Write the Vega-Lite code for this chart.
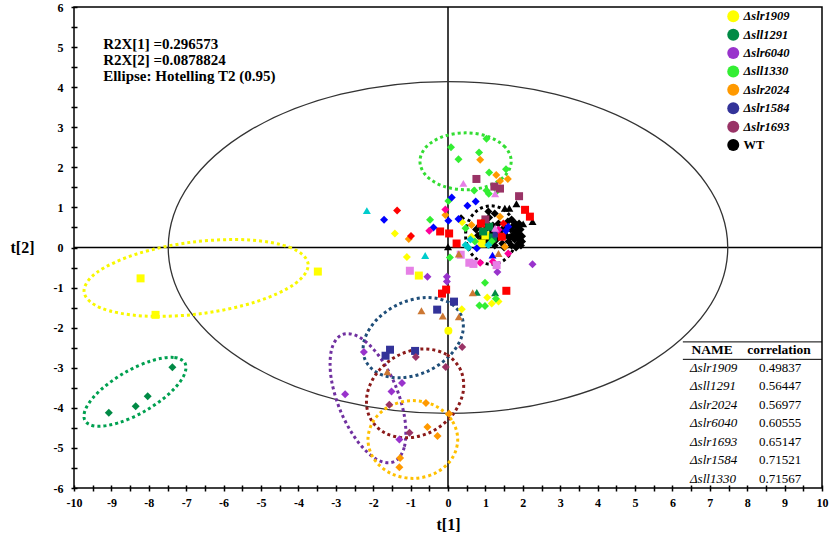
{
  "$schema": "https://vega.github.io/schema/vega-lite/v6.json",
  "width": 748,
  "height": 481,
  "autosize": {"type": "none"},
  "padding": {"left": 74, "top": 7, "right": 7, "bottom": 60},
  "background": "#ffffff",
  "config": {
    "view": {"stroke": "#000000", "strokeWidth": 1.5},
    "axis": {
      "grid": false, "domain": false,
      "labelFont": "Liberation Serif", "labelFontWeight": "bold", "labelFontSize": 12, "labelColor": "#000000",
      "tickColor": "#000000", "tickWidth": 1.5, "tickSize": 6, "offset": -3,
      "titleFont": "Liberation Serif", "titleFontSize": 16, "titleFontWeight": "bold", "titleColor": "#000000",
      "labelOverlap": false, "labelFlush": false, "labelSeparation": 0, "labelBound": false
    }
  },
  "datasets": {
    "t2": [
      {"i":0,"x":7.48,"y":0},{"i":1,"x":6.911,"y":1.584},{"i":2,"x":5.289,"y":2.927},{"i":3,"x":2.863,"y":3.825},
      {"i":4,"x":0,"y":4.14},{"i":5,"x":-2.863,"y":3.825},{"i":6,"x":-5.289,"y":2.927},{"i":7,"x":-6.911,"y":1.584},
      {"i":8,"x":-7.48,"y":0},{"i":9,"x":-6.911,"y":-1.584},{"i":10,"x":-5.289,"y":-2.927},{"i":11,"x":-2.863,"y":-3.825},
      {"i":12,"x":0,"y":-4.14},{"i":13,"x":2.863,"y":-3.825},{"i":14,"x":5.289,"y":-2.927},{"i":15,"x":6.911,"y":-1.584}
    ],
    "ellipses": [
      {"e":"Δsll1330","i":0,"x":1.69,"y":2.15},{"e":"Δsll1330","i":1,"x":1.527,"y":2.505},{"e":"Δsll1330","i":2,"x":1.08,"y":2.765},{"e":"Δsll1330","i":3,"x":0.47,"y":2.86},{"e":"Δsll1330","i":4,"x":-0.14,"y":2.765},{"e":"Δsll1330","i":5,"x":-0.587,"y":2.505},{"e":"Δsll1330","i":6,"x":-0.75,"y":2.15},{"e":"Δsll1330","i":7,"x":-0.587,"y":1.795},{"e":"Δsll1330","i":8,"x":-0.14,"y":1.535},{"e":"Δsll1330","i":9,"x":0.47,"y":1.44},{"e":"Δsll1330","i":10,"x":1.08,"y":1.535},{"e":"Δsll1330","i":11,"x":1.527,"y":1.795},
      {"e":"WT","i":0,"x":1.83,"y":0.31},{"e":"WT","i":1,"x":1.739,"y":0.675},{"e":"WT","i":2,"x":1.49,"y":0.942},{"e":"WT","i":3,"x":1.15,"y":1.04},{"e":"WT","i":4,"x":0.81,"y":0.942},{"e":"WT","i":5,"x":0.561,"y":0.675},{"e":"WT","i":6,"x":0.47,"y":0.31},{"e":"WT","i":7,"x":0.561,"y":-0.055},{"e":"WT","i":8,"x":0.81,"y":-0.322},{"e":"WT","i":9,"x":1.15,"y":-0.42},{"e":"WT","i":10,"x":1.49,"y":-0.322},{"e":"WT","i":11,"x":1.739,"y":-0.055},
      {"e":"Δslr1909","i":0,"x":-3.74,"y":-0.41},{"e":"Δslr1909","i":1,"x":-4.194,"y":-0.01},{"e":"Δslr1909","i":2,"x":-5.328,"y":0.189},{"e":"Δslr1909","i":3,"x":-6.84,"y":0.134},{"e":"Δslr1909","i":4,"x":-8.323,"y":-0.161},{"e":"Δslr1909","i":5,"x":-9.38,"y":-0.616},{"e":"Δslr1909","i":6,"x":-9.73,"y":-1.11},{"e":"Δslr1909","i":7,"x":-9.276,"y":-1.51},{"e":"Δslr1909","i":8,"x":-8.142,"y":-1.709},{"e":"Δslr1909","i":9,"x":-6.63,"y":-1.654},{"e":"Δslr1909","i":10,"x":-5.148,"y":-1.359},{"e":"Δslr1909","i":11,"x":-4.09,"y":-0.904},
      {"e":"Δsll1291","i":0,"x":-7.029,"y":-2.89},{"e":"Δsll1291","i":1,"x":-7.338,"y":-2.742},{"e":"Δsll1291","i":2,"x":-7.922,"y":-2.824},{"e":"Δsll1291","i":3,"x":-8.627,"y":-3.114},{"e":"Δsll1291","i":4,"x":-9.263,"y":-3.534},{"e":"Δsll1291","i":5,"x":-9.66,"y":-3.972},{"e":"Δsll1291","i":6,"x":-9.711,"y":-4.31},{"e":"Δsll1291","i":7,"x":-9.402,"y":-4.458},{"e":"Δsll1291","i":8,"x":-8.818,"y":-4.376},{"e":"Δsll1291","i":9,"x":-8.113,"y":-4.086},{"e":"Δsll1291","i":10,"x":-7.477,"y":-3.666},{"e":"Δsll1291","i":11,"x":-7.08,"y":-3.228},
      {"e":"Δslr1584","i":0,"x":0.368,"y":-1.726},{"e":"Δslr1584","i":1,"x":0.022,"y":-1.37},{"e":"Δslr1584","i":2,"x":-0.579,"y":-1.249},{"e":"Δslr1584","i":3,"x":-1.275,"y":-1.397},{"e":"Δslr1584","i":4,"x":-1.877,"y":-1.774},{"e":"Δslr1584","i":5,"x":-2.226,"y":-2.278},{"e":"Δslr1584","i":6,"x":-2.228,"y":-2.774},{"e":"Δslr1584","i":7,"x":-1.882,"y":-3.13},{"e":"Δslr1584","i":8,"x":-1.281,"y":-3.251},{"e":"Δslr1584","i":9,"x":-0.585,"y":-3.103},{"e":"Δslr1584","i":10,"x":0.017,"y":-2.726},{"e":"Δslr1584","i":11,"x":0.366,"y":-2.222},
      {"e":"Δslr6040","i":0,"x":-1.436,"y":-5.34},{"e":"Δslr6040","i":1,"x":-1.165,"y":-4.966},{"e":"Δslr6040","i":2,"x":-1.155,"y":-4.268},{"e":"Δslr6040","i":3,"x":-1.409,"y":-3.435},{"e":"Δslr6040","i":4,"x":-1.859,"y":-2.688},{"e":"Δslr6040","i":5,"x":-2.384,"y":-2.229},{"e":"Δslr6040","i":6,"x":-2.844,"y":-2.18},{"e":"Δslr6040","i":7,"x":-3.115,"y":-2.554},{"e":"Δslr6040","i":8,"x":-3.125,"y":-3.252},{"e":"Δslr6040","i":9,"x":-2.871,"y":-4.085},{"e":"Δslr6040","i":10,"x":-2.421,"y":-4.832},{"e":"Δslr6040","i":11,"x":-1.896,"y":-5.291},
      {"e":"Δslr1693","i":0,"x":0.344,"y":-3.07},{"e":"Δslr1693","i":1,"x":-0.042,"y":-2.67},{"e":"Δslr1693","i":2,"x":-0.652,"y":-2.531},{"e":"Δslr1693","i":3,"x":-1.324,"y":-2.688},{"e":"Δslr1693","i":4,"x":-1.876,"y":-3.101},{"e":"Δslr1693","i":5,"x":-2.162,"y":-3.658},{"e":"Δslr1693","i":6,"x":-2.104,"y":-4.211},{"e":"Δslr1693","i":7,"x":-1.718,"y":-4.61},{"e":"Δslr1693","i":8,"x":-1.108,"y":-4.749},{"e":"Δslr1693","i":9,"x":-0.436,"y":-4.592},{"e":"Δslr1693","i":10,"x":0.116,"y":-4.179},{"e":"Δslr1693","i":11,"x":0.402,"y":-3.622},
      {"e":"Δslr2024","i":0,"x":0.26,"y":-4.79},{"e":"Δslr2024","i":1,"x":0.099,"y":-4.305},{"e":"Δslr2024","i":2,"x":-0.34,"y":-3.95},{"e":"Δslr2024","i":3,"x":-0.94,"y":-3.82},{"e":"Δslr2024","i":4,"x":-1.54,"y":-3.95},{"e":"Δslr2024","i":5,"x":-1.979,"y":-4.305},{"e":"Δslr2024","i":6,"x":-2.14,"y":-4.79},{"e":"Δslr2024","i":7,"x":-1.979,"y":-5.275},{"e":"Δslr2024","i":8,"x":-1.54,"y":-5.63},{"e":"Δslr2024","i":9,"x":-0.94,"y":-5.76},{"e":"Δslr2024","i":10,"x":-0.34,"y":-5.63},{"e":"Δslr2024","i":11,"x":0.099,"y":-5.275}
    ],
    "points": [
      {"g":"WT","m":"D","x":0.75,"y":0.45},{"g":"WT","m":"D","x":0.8,"y":0.3},{"g":"WT","m":"D","x":0.85,"y":0.55},{"g":"WT","m":"D","x":0.9,"y":0.2},{"g":"WT","m":"D","x":0.95,"y":0.65},{"g":"WT","m":"D","x":1.0,"y":0.45},{"g":"WT","m":"D","x":1.05,"y":0.15},{"g":"WT","m":"D","x":1.1,"y":0.75},{"g":"WT","m":"D","x":1.15,"y":0.35},{"g":"WT","m":"D","x":1.2,"y":0.55},{"g":"WT","m":"D","x":1.25,"y":0.85},{"g":"WT","m":"D","x":1.3,"y":0.2},{"g":"WT","m":"D","x":1.35,"y":0.6},{"g":"WT","m":"D","x":1.4,"y":0.4},{"g":"WT","m":"D","x":1.45,"y":0.1},{"g":"WT","m":"D","x":1.5,"y":0.5},{"g":"WT","m":"D","x":1.55,"y":0.3},{"g":"WT","m":"D","x":1.6,"y":0.65},{"g":"WT","m":"D","x":1.62,"y":0.15},{"g":"WT","m":"D","x":1.68,"y":0.45},{"g":"WT","m":"D","x":1.7,"y":0.05},{"g":"WT","m":"D","x":1.72,"y":0.3},{"g":"WT","m":"D","x":1.75,"y":0.55},{"g":"WT","m":"D","x":1.78,"y":0.2},{"g":"WT","m":"D","x":1.8,"y":0.4},{"g":"WT","m":"D","x":1.82,"y":0.0},{"g":"WT","m":"D","x":1.85,"y":0.25},{"g":"WT","m":"D","x":1.86,"y":0.5},{"g":"WT","m":"D","x":1.88,"y":0.1},{"g":"WT","m":"D","x":1.9,"y":0.35},{"g":"WT","m":"D","x":1.92,"y":0.2},{"g":"WT","m":"D","x":1.94,"y":0.45},{"g":"WT","m":"D","x":1.95,"y":0.05},{"g":"WT","m":"D","x":1.8,"y":0.6},{"g":"WT","m":"D","x":1.7,"y":0.7},{"g":"WT","m":"D","x":1.08,"y":0.9},{"g":"WT","m":"D","x":0.35,"y":0.73},{"g":"WT","m":"D","x":1.5,"y":0.0},{"g":"WT","m":"D","x":1.25,"y":0.05},{"g":"WT","m":"D","x":1.9,"y":0.6},{"g":"WT","m":"D","x":1.02,"y":0.62},{"g":"WT","m":"D","x":0.92,"y":0.38},{"g":"WT","m":"D","x":1.12,"y":0.5},{"g":"WT","m":"D","x":1.65,"y":0.25},{"g":"WT","m":"D","x":1.98,"y":0.28},{"g":"WT","m":"D","x":1.98,"y":0.15},
      {"g":"WT","m":"T","x":1.83,"y":1.09},{"g":"WT","m":"T","x":1.64,"y":0.98},{"g":"WT","m":"T","x":2.26,"y":0.65},{"g":"WT","m":"T","x":2.01,"y":0.59},{"g":"WT","m":"T","x":1.52,"y":0.98},{"g":"WT","m":"T","x":0.0,"y":0.02},
      {"g":"Δslr1909","m":"S","x":-8.22,"y":-0.77},{"g":"Δslr1909","m":"S","x":-7.82,"y":-1.68},{"g":"Δslr1909","m":"S","x":-3.48,"y":-0.6},{"g":"Δslr1909","m":"D","x":-1.42,"y":0.35},{"g":"Δslr1909","m":"D","x":-1.1,"y":-0.24},{"g":"Δslr1909","m":"C","x":0.01,"y":-2.08},{"g":"Δslr1909","m":"D","x":0.37,"y":-1.54},{"g":"Δslr1909","m":"D","x":1.05,"y":-1.25},{"g":"Δslr1909","m":"D","x":1.17,"y":-1.4},{"g":"Δslr1909","m":"D","x":1.35,"y":-1.35},{"g":"Δslr1909","m":"D","x":0.38,"y":0.63},{"g":"Δslr1909","m":"D","x":0.63,"y":0.27},{"g":"Δslr1909","m":"S","x":0.9,"y":0.1},{"g":"Δslr1909","m":"S","x":1.0,"y":0.3},{"g":"Δslr1909","m":"S","x":-0.78,"y":-0.7},
      {"g":"Δsll1291","m":"D","x":-7.37,"y":-2.99},{"g":"Δsll1291","m":"D","x":-8.03,"y":-3.71},{"g":"Δsll1291","m":"D","x":-8.35,"y":-3.96},{"g":"Δsll1291","m":"D","x":-9.07,"y":-4.12},{"g":"Δsll1291","m":"S","x":0.94,"y":0.4},{"g":"Δsll1291","m":"S","x":1.1,"y":0.52},{"g":"Δsll1291","m":"S","x":1.2,"y":0.25},{"g":"Δsll1291","m":"T","x":0.77,"y":-1.12},{"g":"Δsll1291","m":"T","x":1.26,"y":-1.13},
      {"g":"Δslr6040","m":"D","x":-2.25,"y":-2.61},{"g":"Δslr6040","m":"D","x":-1.23,"y":-3.38},{"g":"Δslr6040","m":"D","x":-1.51,"y":-3.59},{"g":"Δslr6040","m":"D","x":-2.75,"y":-3.66},{"g":"Δslr6040","m":"D","x":-1.3,"y":-4.79},{"g":"Δslr6040","m":"D","x":2.26,"y":-0.42},{"g":"Δslr6040","m":"D","x":1.32,"y":-0.61},{"g":"Δslr6040","m":"D","x":-0.55,"y":-0.73},{"g":"Δslr6040","m":"D","x":-0.03,"y":-0.73},{"g":"Δslr6040","m":"D","x":-0.03,"y":-0.85},
      {"g":"Δsll1330","m":"D","x":0.08,"y":2.5},{"g":"Δsll1330","m":"D","x":0.28,"y":2.2},{"g":"Δsll1330","m":"D","x":1.03,"y":2.71},{"g":"Δsll1330","m":"D","x":0.83,"y":2.37},{"g":"Δsll1330","m":"D","x":1.1,"y":1.87},{"g":"Δsll1330","m":"D","x":1.55,"y":1.95},{"g":"Δsll1330","m":"D","x":0.7,"y":1.42},{"g":"Δsll1330","m":"D","x":1.03,"y":1.42},{"g":"Δsll1330","m":"D","x":1.09,"y":1.34},{"g":"Δsll1330","m":"D","x":1.32,"y":1.42},{"g":"Δsll1330","m":"D","x":0.01,"y":1.16},{"g":"Δsll1330","m":"D","x":-0.48,"y":0.69},{"g":"Δsll1330","m":"D","x":0.05,"y":-0.25},{"g":"Δsll1330","m":"D","x":0.99,"y":-0.88},{"g":"Δsll1330","m":"D","x":1.28,"y":-1.28},{"g":"Δsll1330","m":"D","x":0.84,"y":-1.45},{"g":"Δsll1330","m":"D","x":0.99,"y":-1.46},{"g":"Δsll1330","m":"D","x":0.47,"y":0.48},{"g":"Δsll1330","m":"D","x":0.72,"y":0.15},{"g":"Δsll1330","m":"D","x":1.17,"y":0.15},
      {"g":"Δslr2024","m":"D","x":0.86,"y":2.19},{"g":"Δslr2024","m":"D","x":1.29,"y":1.81},{"g":"Δslr2024","m":"D","x":1.39,"y":1.66},{"g":"Δslr2024","m":"D","x":1.6,"y":1.71},{"g":"Δslr2024","m":"D","x":-1.05,"y":0.21},{"g":"Δslr2024","m":"D","x":-0.59,"y":-3.88},{"g":"Δslr2024","m":"D","x":0.03,"y":-4.15},{"g":"Δslr2024","m":"D","x":-0.55,"y":-4.48},{"g":"Δslr2024","m":"D","x":-0.28,"y":-4.7},{"g":"Δslr2024","m":"D","x":-1.28,"y":-5.25},{"g":"Δslr2024","m":"D","x":-1.3,"y":-5.48},{"g":"Δslr2024","m":"D","x":0.63,"y":0.56},{"g":"Δslr2024","m":"D","x":1.39,"y":0.77},{"g":"Δslr2024","m":"D","x":1.52,"y":0.02},{"g":"Δslr2024","m":"D","x":-0.07,"y":0.81},
      {"g":"Δslr1584","m":"S","x":0.16,"y":-1.35},{"g":"Δslr1584","m":"S","x":-0.29,"y":-1.55},{"g":"Δslr1584","m":"S","x":-1.55,"y":-2.55},{"g":"Δslr1584","m":"S","x":-1.67,"y":-2.7},{"g":"Δslr1584","m":"S","x":-0.88,"y":-2.58},{"g":"Δslr1584","m":"S","x":1.3,"y":0.35},
      {"g":"Δslr1693","m":"D","x":0.38,"y":-2.48},{"g":"Δslr1693","m":"D","x":-0.86,"y":-2.73},{"g":"Δslr1693","m":"D","x":-0.06,"y":-2.98},{"g":"Δslr1693","m":"D","x":-1.57,"y":-3.92},{"g":"Δslr1693","m":"D","x":-1.03,"y":-4.62},{"g":"Δslr1693","m":"S","x":0.76,"y":1.71},{"g":"Δslr1693","m":"S","x":1.24,"y":1.52},{"g":"Δslr1693","m":"S","x":1.39,"y":1.47},{"g":"Δslr1693","m":"S","x":1.9,"y":1.28},{"g":"Δslr1693","m":"S","x":1.0,"y":0.7},
      {"g":"M1","m":"S","x":2.06,"y":0.94},{"g":"M1","m":"S","x":2.19,"y":0.77},{"g":"M1","m":"S","x":-0.21,"y":0.4},{"g":"M1","m":"S","x":0.03,"y":0.35},{"g":"M1","m":"S","x":0.23,"y":0.1},{"g":"M1","m":"S","x":1.44,"y":0.27},{"g":"M1","m":"S","x":-0.16,"y":-1.15},{"g":"M1","m":"S","x":-0.05,"y":-1.05},{"g":"M1","m":"S","x":1.56,"y":-1.08},{"g":"M1","m":"S","x":0.88,"y":0.6},{"g":"M1","m":"D","x":-1.36,"y":0.92},{"g":"M1","m":"D","x":-0.99,"y":0.29},{"g":"M1","m":"D","x":1.48,"y":0.6},
      {"g":"M2","m":"D","x":-1.71,"y":0.69},{"g":"M2","m":"D","x":-0.39,"y":0.5},{"g":"M2","m":"D","x":0.01,"y":0.67},{"g":"M2","m":"D","x":0.1,"y":1.25},{"g":"M2","m":"D","x":0.74,"y":1.15},{"g":"M2","m":"D","x":0.52,"y":1.04},{"g":"M2","m":"D","x":0.28,"y":0.71},{"g":"M2","m":"D","x":0.77,"y":-0.02},{"g":"M2","m":"D","x":1.61,"y":0.52},{"g":"M2","m":"D","x":1.55,"y":0.42},{"g":"M2","m":"T","x":1.19,"y":-0.19},
      {"g":"M3","m":"D","x":-0.5,"y":0.42},{"g":"M3","m":"D","x":-0.07,"y":0.95},{"g":"M3","m":"D","x":0.86,"y":-0.38},{"g":"M3","m":"D","x":1.35,"y":0.44},{"g":"M3","m":"D","x":1.61,"y":-0.15},{"g":"M3","m":"D","x":1.2,"y":-0.35},
      {"g":"M4","m":"T","x":-2.17,"y":0.92},{"g":"M4","m":"T","x":-0.61,"y":-0.2},{"g":"M4","m":"D","x":0.47,"y":0.06},{"g":"M4","m":"D","x":0.54,"y":0.0},{"g":"M4","m":"D","x":1.08,"y":0.06},{"g":"M4","m":"D","x":0.6,"y":0.2},
      {"g":"M5","m":"T","x":0.41,"y":1.6},{"g":"M5","m":"T","x":1.26,"y":1.34},{"g":"M5","m":"T","x":1.26,"y":0.48},{"g":"M5","m":"S","x":0.34,"y":-0.18},{"g":"M5","m":"S","x":0.57,"y":-0.38},{"g":"M5","m":"S","x":0.68,"y":-0.41},{"g":"M5","m":"S","x":-1.02,"y":-0.58},{"g":"M5","m":"S","x":1.3,"y":-0.44},
      {"g":"M6","m":"T","x":0.29,"y":-0.16},{"g":"M6","m":"T","x":0.66,"y":-1.13},{"g":"M6","m":"T","x":-0.71,"y":-1.58},{"g":"M6","m":"T","x":-0.14,"y":-1.71},{"g":"M6","m":"T","x":0.29,"y":-1.73},{"g":"M6","m":"T","x":-1.62,"y":-3.1},{"g":"M6","m":"T","x":1.35,"y":-0.15}
    ],
    "table": [
      {"name":"Δslr1909","correlation":0.49837},{"name":"Δsll1291","correlation":0.56447},{"name":"Δslr2024","correlation":0.56977},{"name":"Δslr6040","correlation":0.60555},{"name":"Δslr1693","correlation":0.65147},{"name":"Δslr1584","correlation":0.71521},{"name":"Δsll1330","correlation":0.71567}
    ]
  },
  "layer": [
    {
      "layer": [
        {
          "data": {"values": [{}]},
          "mark": {"type": "rule", "color": "#000000", "strokeWidth": 1.5},
          "encoding": {"x": {"datum": 0}}
        },
        {
          "data": {"values": [{}]},
          "mark": {"type": "rule", "color": "#000000", "strokeWidth": 1.5},
          "encoding": {"y": {"datum": 0}}
        },
        {
          "data": {"name": "t2"},
          "mark": {"type": "line", "interpolate": "cardinal-closed", "color": "#333333", "strokeWidth": 1.3},
          "encoding": {
            "x": {"field": "x", "type": "quantitative", "scale": {"domain": [-10, 10], "nice": false, "zero": false}},
            "y": {"field": "y", "type": "quantitative", "scale": {"domain": [-6, 6], "nice": false, "zero": false}},
            "order": {"field": "i"}
          }
        },
        {
          "data": {"name": "ellipses"},
          "mark": {"type": "line", "interpolate": "cardinal-closed", "strokeDash": [3, 3], "strokeWidth": 3},
          "encoding": {
            "x": {"field": "x", "type": "quantitative", "scale": {"domain": [-10, 10], "nice": false, "zero": false}},
            "y": {"field": "y", "type": "quantitative", "scale": {"domain": [-6, 6], "nice": false, "zero": false}},
            "stroke": {"field": "e", "type": "nominal", "legend": null,
              "scale": {"domain": ["Δslr1909","Δsll1291","Δslr6040","Δsll1330","Δslr2024","Δslr1584","Δslr1693","WT"],
                        "range": ["#F8F800","#00A050","#7030A0","#33DD33","#FFC000","#1F4E79","#8B1A1A","#000000"]}},
            "order": {"field": "i"}
          }
        },
        {
          "data": {"name": "points"},
          "mark": {"type": "point", "filled": true, "size": 64, "opacity": 1, "strokeWidth": 0},
          "encoding": {
            "x": {"field": "x", "type": "quantitative", "scale": {"domain": [-10, 10], "nice": false, "zero": false},
              "axis": {"title": "t[1]", "tickCount": 100, "values": [-10,-9.5,-9,-8.5,-8,-7.5,-7,-6.5,-6,-5.5,-5,-4.5,-4,-3.5,-3,-2.5,-2,-1.5,-1,-0.5,0,0.5,1,1.5,2,2.5,3,3.5,4,4.5,5,5.5,6,6.5,7,7.5,8,8.5,9,9.5,10],
                "labelExpr": "datum.value % 1 === 0 ? '' + datum.value : ''", "labelPadding": 6, "titlePadding": 8, "labelOverlap": false}},
            "y": {"field": "y", "type": "quantitative", "scale": {"domain": [-6, 6], "nice": false, "zero": false},
              "axis": {"title": "t[2]", "tickCount": 100, "values": [-6,-5.5,-5,-4.5,-4,-3.5,-3,-2.5,-2,-1.5,-1,-0.5,0,0.5,1,1.5,2,2.5,3,3.5,4,4.5,5,5.5,6],
                "labelExpr": "datum.value % 1 === 0 ? '' + datum.value : ''", "labelPadding": 8, "labelOverlap": false,
                "titleAngle": 0, "titleAlign": "center", "titleBaseline": "middle", "titleX": -55, "titleY": 240}},
            "color": {"field": "g", "type": "nominal",
              "scale": {"domain": ["Δslr1909","Δsll1291","Δslr6040","Δsll1330","Δslr2024","Δslr1584","Δslr1693","WT","M1","M2","M3","M4","M5","M6"],
                        "range": ["#FFFF00","#008A45","#9933CC","#33EE33","#FF9900","#333399","#993366","#000000","#FF0000","#0000FF","#FF0099","#00CCCC","#E680E6","#CC7733"]},
              "legend": {"values": ["Δslr1909","Δsll1291","Δslr6040","Δsll1330","Δslr2024","Δslr1584","Δslr1693","WT"],
                "title": null, "orient": "none", "legendX": 653, "legendY": 3, "padding": 0,
                "symbolType": "circle", "symbolSize": 144, "symbolStrokeWidth": 0, "symbolOpacity": 1,
                "labelFont": "Liberation Serif", "labelFontSize": 12.5, "labelFontWeight": "bold", "labelFontStyle": "italic", "labelColor": "#000000",
                "rowPadding": 5.4, "labelOffset": 4,
                "encode": {
                  "symbols": {"update": {"fill": {"signal": "datum.value === 'Δslr1909' ? '#FFFF00' : datum.value === 'Δsll1291' ? '#00A651' : datum.value === 'Δslr6040' ? '#5F4B8B' : datum.value === 'Δsll1330' ? '#3CF03C' : datum.value === 'Δslr2024' ? '#FFC000' : datum.value === 'Δslr1584' ? '#002060' : datum.value === 'Δslr1693' ? '#953735' : '#000000'"}}},
                  "labels": {"update": {"fontStyle": {"signal": "datum.label === 'WT' ? 'normal' : 'italic'"}}}
                }}},
            "shape": {"field": "m", "type": "nominal", "legend": null,
              "scale": {"domain": ["D","S","T","C"], "range": ["diamond","square","triangle-up","circle"]}}
          }
        },
        {
          "data": {"values": [{}]},
          "mark": {"type": "text", "align": "left", "baseline": "top", "font": "Liberation Serif", "fontSize": 15, "fontWeight": "bold", "color": "#000000", "lineHeight": 16,
            "text": ["R2X[1] =0.296573", "R2X[2] =0.0878824", "Ellipse: Hotelling T2 (0.95)"]},
          "encoding": {"x": {"datum": -9.22}, "y": {"datum": 5.25}}
        },
        {
          "data": {"values": [{}]},
          "mark": {"type": "text", "align": "center", "baseline": "middle", "font": "Liberation Serif", "fontSize": 13.5, "fontWeight": "bold", "color": "#000000", "text": "NAME"},
          "encoding": {"x": {"datum": 7.06}, "y": {"datum": -2.5625}}
        },
        {
          "data": {"values": [{}]},
          "mark": {"type": "text", "align": "center", "baseline": "middle", "font": "Liberation Serif", "fontSize": 13.5, "fontWeight": "bold", "color": "#000000", "text": "correlation"},
          "encoding": {"x": {"datum": 8.85}, "y": {"datum": -2.5625}}
        },
        {
          "data": {"values": [{}]},
          "mark": {"type": "rule", "color": "#000000", "strokeWidth": 1},
          "encoding": {"x": {"datum": 6.28}, "x2": {"datum": 10}, "y": {"datum": -2.355}}
        },
        {
          "data": {"values": [{}]},
          "mark": {"type": "rule", "color": "#000000", "strokeWidth": 1},
          "encoding": {"x": {"datum": 6.28}, "x2": {"datum": 10}, "y": {"datum": -2.79}}
        }
      ]
    },
    {
      "data": {"name": "table"},
      "encoding": {"y": {"field": "name", "type": "nominal", "sort": null, "scale": {"type": "point", "range": [360.7, 471.5], "padding": 0}, "axis": null}},
      "layer": [
        {"mark": {"type": "text", "align": "left", "baseline": "middle", "font": "Liberation Serif", "fontSize": 13, "fontStyle": "italic", "color": "#000000"},
         "encoding": {"x": {"datum": 6.47}, "text": {"field": "name"}}},
        {"mark": {"type": "text", "align": "center", "baseline": "middle", "font": "Liberation Serif", "fontSize": 13, "color": "#000000"},
         "encoding": {"x": {"datum": 8.88}, "text": {"field": "correlation", "type": "quantitative", "format": ".5f"}}}
      ]
    }
  ],
  "resolve": {"scale": {"y": "independent"}}
}
